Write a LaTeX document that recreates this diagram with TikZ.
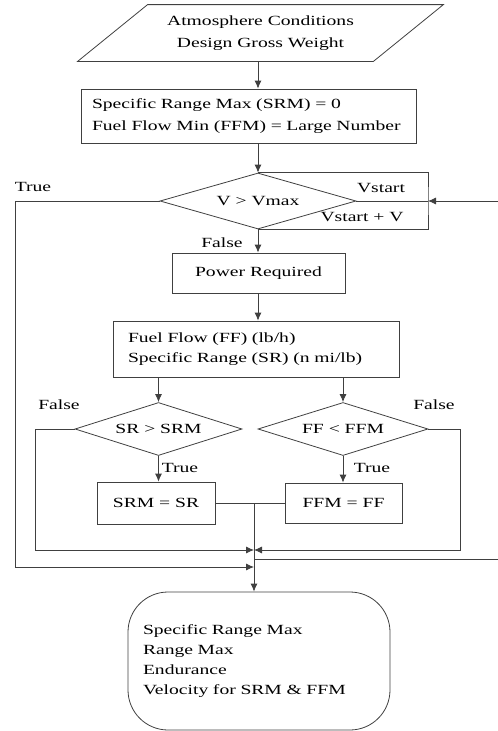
\documentclass[tikz,border=0pt]{standalone}
\usepackage{fontspec}
\setmainfont[FakeStretch=1.4]{Liberation Serif}
\usetikzlibrary{shapes.geometric,arrows.meta}

\begin{document}
\begin{tikzpicture}[x=1pt, y=-1pt, line width=0.8pt,
        every node/.style={font=\fontsize{14}{22}\selectfont}]
        \tikzstyle{block}=[draw=black!75, rectangle, inner sep=0pt];
        \tikzstyle{decision}=[draw=black!75, diamond, aspect=3.2, inner sep=0pt];
        \tikzstyle{io}=[rectangle, inner sep=0pt];
        \tikzstyle{term}=[draw=black!75, rectangle, rounded corners=40pt, inner sep=0pt];
        \tikzstyle{tag}=[inner sep=0pt];
        \tikzstyle{line}=[draw=black!75];
        \tikzstyle{arr}=[line, -{Latex[length=8pt, width=7pt]}];

        \useasboundingbox (0,0) rectangle (498,731);

        \node[io, minimum width=295pt, minimum height=56pt, align=center] (in) at (260.5,33) {Atmosphere Conditions\\Design Gross Weight};
        \draw[line] ([xshift=-35pt]in.south west) -- ([xshift=35pt]in.north west) -- ([xshift=35pt]in.north east) -- ([xshift=-35pt]in.south east) -- cycle;
        \node[block, minimum height=54pt, inner xsep=11pt, text width=313pt, align=left] (init) at (248.5,116) {Specific Range Max (SRM) = 0\\Fuel Flow Min (FFM) = Large Number};
        \node[decision, minimum width=196pt, minimum height=56pt] (v) at (258,201) {V > Vmax};
        \node[block, minimum width=173pt, minimum height=40pt] (pr) at (258.5,273) {Power Required};
        \node[block, minimum height=56pt, inner xsep=15pt, text width=256pt, align=left, font=\fontsize{14}{20}\selectfont] (ff) at (256,349) {Fuel Flow (FF) (lb/h)\\Specific Range (SR) (n mi/lb)};
        \node[decision, minimum width=167pt, minimum height=53pt] (d1) at (158.5,429) {SR > SRM};
        \node[decision, minimum width=170pt, minimum height=53pt] (d2) at (343,429) {FF < FFM};
        \node[block, minimum width=118pt, minimum height=42pt] (srm) at (156,503) {SRM = SR};
        \node[block, minimum width=117pt, minimum height=40pt] (ffm) at (343.5,503) {FFM = FF};
        \node[term, minimum height=138pt, inner xsep=15pt, text width=232pt, align=left, font=\fontsize{14}{20}\selectfont] (res) at (259,661) {Specific Range Max\\Range Max\\Endurance\\Velocity for SRM \& FFM};

        % labels
        \node[tag] (ttop) at (33,187) {True};
        \node[tag] (vstart) at (381,188) {Vstart};
        \node[tag] (vstep) at (362,217) {Vstart + V};
        \node[tag] (ftop) at (222,243) {False};
        \node[tag] (fleft) at (59,405) {False};
        \node[tag] (fright) at (434,405) {False};
        \node[tag] (tleft) at (180,468) {True};
        \node[tag] (tright) at (372,468) {True};

        % junctions and loose ends
        \coordinate (inc) at (428,201);
        \coordinate (backin) at (498,201);
        \coordinate (backout) at (498,559);
        \coordinate (jtop) at (254,503);
        \coordinate (jfalse) at (254,550);
        \coordinate (jback) at (254,559);
        \coordinate (jtrue) at (254,567);
        \coordinate (ltrue) at (15,201);
        \coordinate (lfalse) at (35,429);
        \coordinate (rfalse) at (460,429);

        \draw[arr] (in.south -| v.north) -- (v.north |- init.north);
        \draw[arr] (init.south -| v.north) -- (v.north);
        \draw[line] (v.north) -| (inc) |- (v.south);
        \draw[line] (v.east) -- (inc);
        \draw[arr] (backin) -- (inc);
        \draw[arr] (v.south) -- (v.south |- pr.north);
        \draw[arr] (pr.south -| v.south) -- (v.south |- ff.north);
        \draw[arr] (ff.south -| d1.north) -- (d1.north);
        \draw[arr] (ff.south -| d2.north) -- (d2.north);
        \draw[arr] (d1.south) -- (d1.south |- srm.north);
        \draw[arr] (d2.south) -- (d2.south |- ffm.north);
        \draw[line] (srm.east) -- (ffm.west);
        \draw[arr] (jtop) -- (jtop |- res.north);
        \draw[arr] (d1.west) -- (lfalse) |- (jfalse);
        \draw[arr] (d2.east) -- (rfalse) |- (jfalse);
        \draw[arr] (v.west) -- (ltrue) |- (jtrue);
        \draw[line] (jback) -- (backout);
    \end{tikzpicture}
\end{document}
